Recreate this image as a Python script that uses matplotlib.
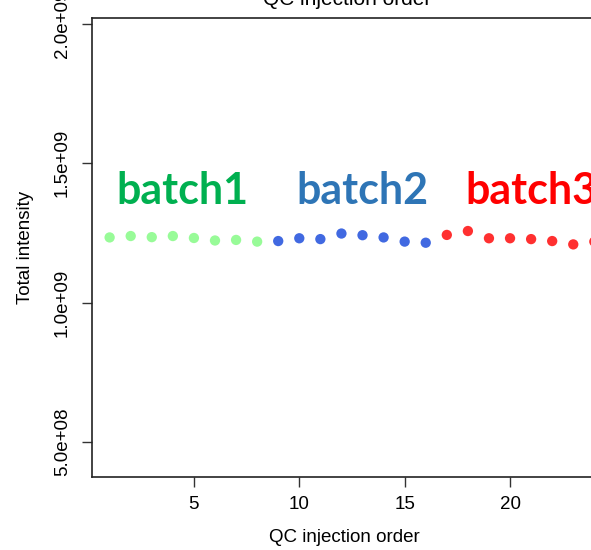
import matplotlib
matplotlib.use("Agg")
import matplotlib.pyplot as plt
import numpy as np

# QC samples, injection order and total intensity
order = np.arange(1, 25)
intensity = [1.234e9, 1.239e9, 1.235e9, 1.239e9, 1.232e9, 1.223e9, 1.225e9, 1.219e9,
             1.221e9, 1.231e9, 1.228e9, 1.248e9, 1.242e9, 1.234e9, 1.219e9, 1.215e9,
             1.243e9, 1.257e9, 1.231e9, 1.231e9, 1.228e9, 1.221e9, 1.209e9, 1.219e9]
batch = [1] * 8 + [2] * 8 + [3] * 8
batch_cols = {1: "#98FB98", 2: "#4169E1", 3: "#FF3030"}
batch_names = ["batch1", "batch2", "batch3"]
label_cols = ["#00B050", "#2E75B6", "#FF0000"]
label_x = [1.33, 9.87, 17.9]

yticks = [5e8, 1e9, 1.5e9, 2e9]
ytick_labels = ["5.0e+08", "1.0e+09", "1.5e+09", "2.0e+09"]
xticks = [5, 10, 15, 20]

plt.rcParams['font.family'] = ['Liberation Sans', 'DejaVu Sans']

fig = plt.figure(figsize=(5.91, 5.5), dpi=100)
ax = fig.add_axes([0.155, 0.1327, 0.8567, 0.8345])

cols = [batch_cols[b] for b in batch]
ax.scatter(order, intensity, c=cols, s=55, linewidths=0, zorder=3, clip_on=False)

for name, c, x in zip(batch_names, label_cols, label_x):
    ax.text(x, 1.353e9, name, color=c, fontsize=31, fontweight='bold',
            family=['Lato', 'DejaVu Sans'], ha='left', va='baseline')

ax.set_xlim(0.145, 24.17)
ax.set_ylim(3.74e8, 2.0215e9)
ax.set_xticks(xticks)
ax.set_yticks(yticks)
ax.set_yticklabels(ytick_labels, rotation=90, va='center')
ax.tick_params(axis='both', length=7, width=1, labelsize=13.5, color='#333333')
ax.tick_params(axis='x', pad=7)
ax.tick_params(axis='y', pad=8)
for s in ax.spines.values():
    s.set_linewidth(1.2)
    s.set_color('#222222')

ax.set_xlabel("QC injection order", fontsize=13.5, labelpad=11)
ax.set_ylabel("Total intensity", fontsize=13.5, labelpad=14)
fig.text(0.587, 1 - 5 / 550, "QC injection order", fontsize=15,
         ha='center', va='baseline')

fig.savefig("out.png", dpi=100)
